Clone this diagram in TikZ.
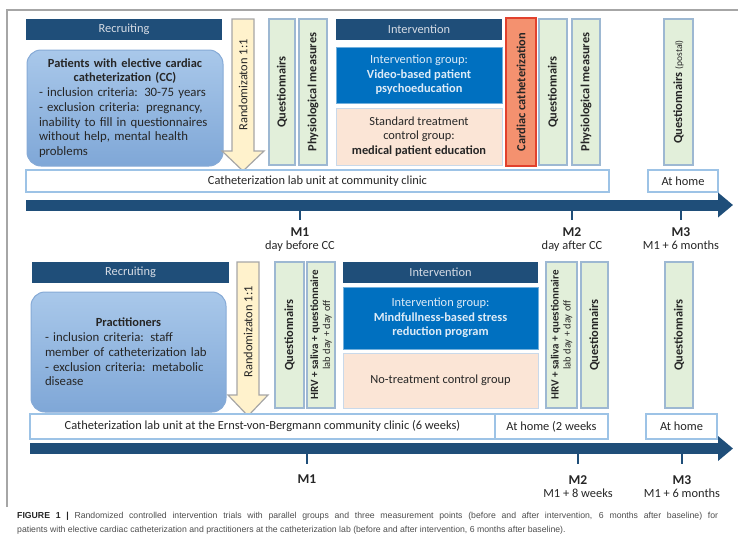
\documentclass[tikz,border=0pt]{standalone}
\usepackage{fontspec}
\setmainfont{Carlito}
\newfontfamily\capfont{Liberation Sans}
\usepackage{xcolor}
\usepackage{tikz}
\usetikzlibrary{arrows.meta, positioning}
\definecolor{navy}{HTML}{1F4E79}
\definecolor{barText}{HTML}{D6DCE5}
\definecolor{patTop}{HTML}{A9C8EA}
\definecolor{patBottom}{HTML}{7FA7D7}
\definecolor{patLine}{HTML}{86AAD6}
\definecolor{randFill}{HTML}{FFF2CC}
\definecolor{randLine}{HTML}{A6A6A6}
\definecolor{measFill}{HTML}{E2EFDA}
\definecolor{measLine}{HTML}{9DB8D2}
\definecolor{intBlue}{HTML}{0070C0}
\definecolor{intText}{HTML}{DDEBF7}
\definecolor{ctrlFill}{HTML}{FBE5D6}
\definecolor{ctrlLine}{HTML}{C9D9EA}
\definecolor{cathFill}{HTML}{F4916F}
\definecolor{cathLine}{HTML}{E2412D}
\definecolor{siteLine}{HTML}{9DC3E6}
\definecolor{inkDark}{HTML}{262626}
\definecolor{frameGray}{HTML}{A6A6A6}
\definecolor{capGray}{HTML}{4D4D4D}
\tikzset{
    headbar/.style={
        rectangle,
        fill=navy,
        text=barText,
        inner sep=0pt,
        font=\fontsize{12.4}{14}\selectfont
    },
    groupbox/.style={
        rectangle,
        rounded corners=14pt,
        draw=patLine,
        line width=1pt,
        top color=patTop,
        bottom color=patBottom,
        align=left,
        text=inkDark,
        font=\fontsize{12.8}{14.7}\selectfont
    },
    randarrow/.style={
        draw=randLine,
        line width=1.2pt,
        fill=randFill
    },
    randtext/.style={
        rotate=90,
        inner sep=0pt,
        text=inkDark,
        font=\fontsize{12.4}{14}\selectfont
    },
    measbox/.style={
        rectangle,
        rotate=90,
        draw=measLine,
        line width=1.3pt,
        fill=measFill,
        inner sep=0pt,
        align=center,
        text=inkDark,
        font=\fontsize{12.4}{12}\selectfont\bfseries
    },
    cathbox/.style={
        measbox,
        draw=cathLine,
        fill=cathFill
    },
    intbox/.style={
        rectangle,
        fill=intBlue,
        draw=intBlue!55!white,
        line width=1pt,
        align=center,
        text=intText,
        font=\fontsize{12.4}{14.5}\selectfont
    },
    ctrlbox/.style={
        rectangle,
        fill=ctrlFill,
        draw=ctrlLine,
        line width=1pt,
        align=center,
        text=inkDark,
        font=\fontsize{12.4}{14.5}\selectfont
    },
    sitebox/.style={
        rectangle,
        fill=white,
        draw=siteLine,
        line width=1.3pt,
        inner sep=0pt,
        text=inkDark,
        font=\fontsize{12.4}{14}\selectfont
    },
    timeline/.style={
        draw=navy,
        line width=11pt,
        -{Triangle[width=24pt, length=15pt]}
    },
    tickline/.style={
        draw=navy,
        line width=2pt
    },
    mlabel/.style={
        inner sep=0pt,
        text=inkDark,
        font=\fontsize{13.5}{15}\selectfont\bfseries
    },
    msub/.style={
        inner sep=0pt,
        text=inkDark,
        font=\fontsize{12.4}{14}\selectfont
    },
    captext/.style={
        inner sep=0pt,
        text width=701pt,
        align=justify,
        text=capGray,
        font=\capfont\fontsize{8.7}{14}\selectfont
    }
}

\begin{document}
\begin{tikzpicture}[x=1pt, y=-1pt]
\useasboundingbox (0,0) rectangle (738,541);

% Frame
\draw[frameGray, line width=1.2pt] (7,507) -- (7,10) -- (738,10);

% Patients trial
\node[headbar, minimum width=196, minimum height=21] (rec1) at (124,29.5) {Recruiting};
\node[groupbox, minimum width=196, minimum height=116, text width=172] (pat) at (125,108)
    {{\centering\bfseries\fontsize{12.4}{14.7}\selectfont Patients with elective cardiac\\ catheterization (CC)\par}
     - inclusion criteria: 30-75 years\\
     - exclusion criteria: pregnancy,\\
     inability to fill in questionnaires\\
     without help, mental health\\
     problems};

\draw[randarrow] (232,19) -- (254,19) -- (254,151) -- (264,151) -- (243,171) -- (222,151) -- (232,151) -- cycle;
\node[randtext] (rand1) at (243,85) {Randomizaton 1:1};

\node[measbox, minimum width=146, minimum height=26] (q1) at (282,92) {Questionnairs};
\node[measbox, minimum width=146, minimum height=28] (phys1) at (313,92) {Physiological measures};

\node[headbar, minimum width=166, minimum height=21] (int1) at (419,29.5) {Intervention};
\node[intbox, minimum width=166, minimum height=56] (video) at (419,75)
    {Intervention group:\\ \textbf{Video-based patient}\\ \textbf{psychoeducation}};
\node[ctrlbox, minimum width=166, minimum height=57] (edu) at (419,136.5)
    {Standard treatment\\ control group:\\ \textbf{medical patient education}};

\node[cathbox, minimum width=148, minimum height=30] (cath) at (521,92) {Cardiac catheterization};
\node[measbox, minimum width=146, minimum height=28] (q2) at (553,92) {Questionnairs};
\node[measbox, minimum width=146, minimum height=28] (phys2) at (586,92) {Physiological measures};
\node[measbox, minimum width=146, minimum height=29] (q3) at (678.5,92)
    {Questionnairs {\mdseries\fontsize{9.5}{10}\selectfont(postal)}};

\node[sitebox, minimum width=583, minimum height=22] (lab1) at (317.5,181) {Catheterization lab unit at community clinic};
\node[sitebox, minimum width=70, minimum height=22] (home1) at (683,181) {At home};

% Timeline patients
\coordinate (tl1s) at (26,205);
\coordinate (tl1e) at (733,205);
\draw[timeline] (tl1s) -- (tl1e);
\coordinate (t1a) at (300,210);
\coordinate (t1b) at (572,210);
\coordinate (t1c) at (681,210);
\draw[tickline] (t1a) -- ++(0,10);
\draw[tickline] (t1b) -- ++(0,10);
\draw[tickline] (t1c) -- ++(0,10);
\node[mlabel] (m1a) at (300,232) {M1};
\node[msub, below=4pt of m1a] (s1a) {day before CC};
\node[mlabel] (m2a) at (572,232) {M2};
\node[msub, below=4pt of m2a] (s2a) {day after CC};
\node[mlabel] (m3a) at (681,232) {M3};
\node[msub, below=4pt of m3a] (s3a) {M1 + 6 months};

% Practitioners trial
\node[headbar, minimum width=197, minimum height=21] (rec2) at (130.5,272.5) {Recruiting};
\node[groupbox, minimum width=195, minimum height=120, text width=167] (prac) at (128.5,352)
    {{\centering\bfseries\fontsize{12.4}{14.7}\selectfont Practitioners\par}
     - inclusion criteria: staff\\
     member of catheterization lab\\
     - exclusion criteria: metabolic\\
     disease};

\draw[randarrow] (237,262) -- (259,262) -- (259,395) -- (268,395) -- (248,416) -- (228,395) -- (237,395) -- cycle;
\node[randtext] (rand2) at (248,332) {Randomizaton 1:1};

\node[measbox, minimum width=146, minimum height=29] (q4) at (289.5,335) {Questionnairs};
\node[measbox, minimum width=146, minimum height=28] (hrv1) at (321,335)
    {{\fontsize{11}{12}\selectfont HRV + saliva + questionnaire}\\
     {\mdseries\fontsize{10.5}{12}\selectfont lab day + day off}};

\node[headbar, minimum width=195, minimum height=21] (int2) at (440.5,272.5) {Intervention};
\node[intbox, minimum width=195, minimum height=62] (mbsr) at (440.5,318)
    {Intervention group:\\ \textbf{Mindfullness-based stress}\\ \textbf{reduction program}};
\node[ctrlbox, minimum width=195, minimum height=55] (notreat) at (440.5,380.5) {No-treatment control group};

\node[measbox, minimum width=146, minimum height=31] (hrv2) at (561.5,335)
    {{\fontsize{11}{12}\selectfont HRV + saliva + questionnaire}\\
     {\mdseries\fontsize{10.5}{12}\selectfont lab day + day off}};
\node[measbox, minimum width=146, minimum height=27] (q5) at (594.5,335) {Questionnairs};
\node[measbox, minimum width=146, minimum height=28] (q6) at (679,335) {Questionnairs};

\node[sitebox, minimum width=465, minimum height=25] (lab2) at (262.5,426.5)
    {Catheterization lab unit at the Ernst-von-Bergmann community clinic (6 weeks)};
\node[sitebox, minimum width=113, minimum height=25] (home2) at (551.5,426.5) {At home (2 weeks};
\node[sitebox, minimum width=71, minimum height=25] (home3) at (681.5,426.5) {At home};

% Timeline practitioners
\coordinate (tl2s) at (30,448.5);
\coordinate (tl2e) at (733,448.5);
\draw[timeline] (tl2s) -- (tl2e);
\coordinate (t2a) at (307,454);
\coordinate (t2b) at (578,454);
\coordinate (t2c) at (682,454);
\draw[tickline] (t2a) -- ++(0,10);
\draw[tickline] (t2b) -- ++(0,10);
\draw[tickline] (t2c) -- ++(0,10);
\node[mlabel] (m1b) at (307,479) {M1};
\node[mlabel] (m2b) at (578,480) {M2};
\node[msub, below=4pt of m2b] (s2b) {M1 + 8 weeks};
\node[mlabel] (m3b) at (682,480) {M3};
\node[msub, below=4pt of m3b] (s3b) {M1 + 6 months};

% Caption
\node[captext, anchor=north west] (cap) at (17,512)
    {{\color{inkDark}\bfseries FIGURE 1 |} Randomized controlled intervention trials with parallel groups and three measurement points (before and after intervention, 6~months after baseline) for\linebreak
     patients with elective cardiac catheterization and practitioners at the catheterization lab (before and after intervention, 6~months after baseline).};

\end{tikzpicture}
\end{document}
